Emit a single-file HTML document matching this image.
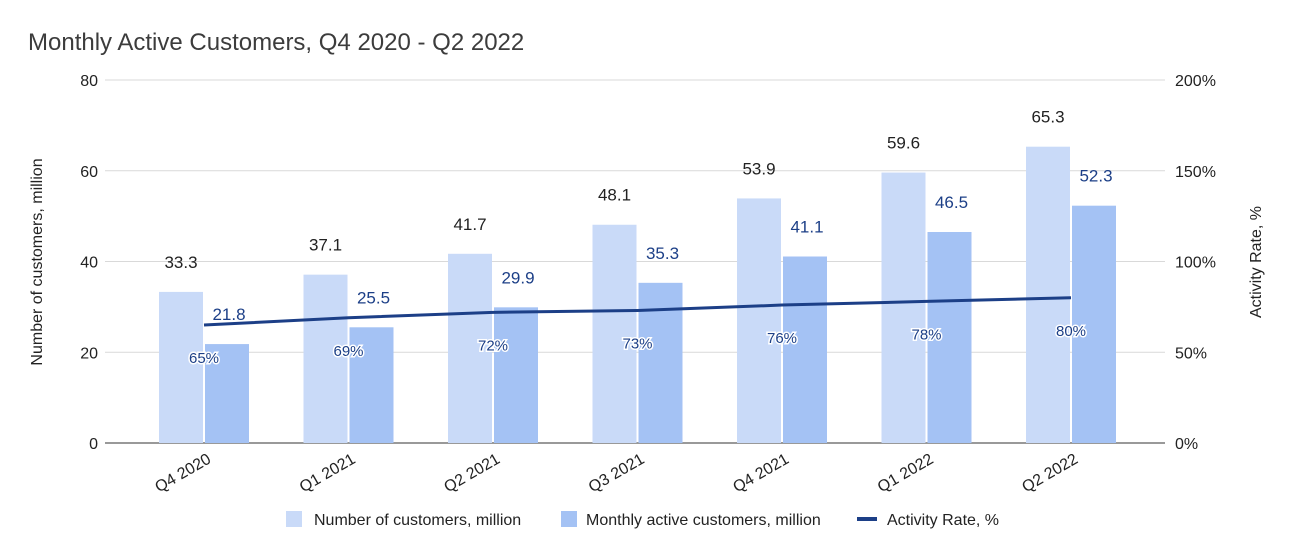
<!DOCTYPE html>
<html><head><meta charset="utf-8"><style>
body{margin:0;background:#fff;}
svg{display:block;font-family:"Liberation Sans",Arial,sans-serif;}
</style></head><body>
<svg id="chart" width="1292" height="555">
<text x="28" y="50" font-size="24" fill="#3c3c3c">Monthly Active Customers, Q4 2020 - Q2 2022</text>
<g id="grid"></g><g id="bars"></g><g id="line"></g><g id="labels"></g><g id="axes"></g>
<text transform="translate(42,262) rotate(-90)" text-anchor="middle" font-size="16" fill="#222">Number of customers, million</text>
<text transform="translate(1261,262) rotate(-90)" text-anchor="middle" font-size="16" fill="#222">Activity Rate, %</text>
<g>
<rect x="286" y="511" width="16" height="16" fill="#c9daf8"/>
<text x="314" y="525" font-size="16" fill="#222">Number of customers, million</text>
<rect x="561" y="511" width="16" height="16" fill="#a4c2f4"/>
<text x="586" y="525" font-size="16" fill="#222">Monthly active customers, million</text>
<rect x="857" y="517" width="20" height="4" fill="#1c3f87"/>
<text x="887" y="525" font-size="16" fill="#222">Activity Rate, %</text>
</g>
</svg>
<script>
const categories=["Q4 2020","Q1 2021","Q2 2021","Q3 2021","Q4 2021","Q1 2022","Q2 2022"];
const customers=[33.3,37.1,41.7,48.1,53.9,59.6,65.3];
const active=[21.8,25.5,29.9,35.3,41.1,46.5,52.3];
const rate=[65,69,72,73,76,78,80];
const leftTicks=[0,20,40,60,80];
const rightTicks=["0%","50%","100%","150%","200%"];
const NS="http://www.w3.org/2000/svg";
const y0=443,y1=80;
const yL=v=>y0-(v/80)*(y0-y1);
const yR=v=>y0-(v/200)*(y0-y1);
const xC=i=>204+i*144.5;
function mk(tag,attrs,parent,text){const e=document.createElementNS(NS,tag);for(const k in attrs)e.setAttribute(k,attrs[k]);if(text!==undefined)e.textContent=text;document.getElementById(parent).appendChild(e);return e;}
leftTicks.forEach((t,i)=>{
  const y=yL(t);
  const g=mk('line',{x1:105,x2:1165,y1:y,y2:y,stroke:i===0?'#333':'#d9d9d9','stroke-width':1},'grid');
  
  
  const a=mk('text',{x:98,y:y+6,'text-anchor':'end','font-size':16,fill:'#222'},'axes',String(t));
  
  
  const b=mk('text',{x:1175,y:y+6,'font-size':16,fill:'#222'},'axes',rightTicks[i]);
  
  
});
categories.forEach((c,i)=>{
  const cx=xC(i);
  const r1=mk('rect',{x:cx-45,y:yL(customers[i]),width:44,height:y0-yL(customers[i]),fill:'#c9daf8'},'bars');
  
  
  const r2=mk('rect',{x:cx+1,y:yL(active[i]),width:44,height:y0-yL(active[i]),fill:'#a4c2f4'},'bars');
  
  
  const l1=mk('text',{x:cx-23,y:yL(customers[i])-24,'text-anchor':'middle','font-size':17,fill:'#222'},'labels',customers[i].toFixed(1));
  
  
  const l2=mk('text',{x:cx+25,y:yL(active[i])-24,'text-anchor':'middle','font-size':17,fill:'#1c3f87'},'labels',active[i].toFixed(1));
  
  
  const l3=mk('text',{x:cx,y:yR(rate[i])+38,'text-anchor':'middle','font-size':15,fill:'#1c3f87',stroke:'#fff','stroke-width':3,'paint-order':'stroke'},'labels',rate[i]+'%');
  
  
  const xl=mk('text',{transform:`translate(${cx+8},462) rotate(-30)`,'text-anchor':'end','font-size':16,fill:'#222'},'axes',c);
  
  
});
const p=mk('polyline',{points:rate.map((r,i)=>xC(i)+','+yR(r)).join(' '),fill:'none',stroke:'#1c3f87','stroke-width':3},'line');


</script>
</body></html>
